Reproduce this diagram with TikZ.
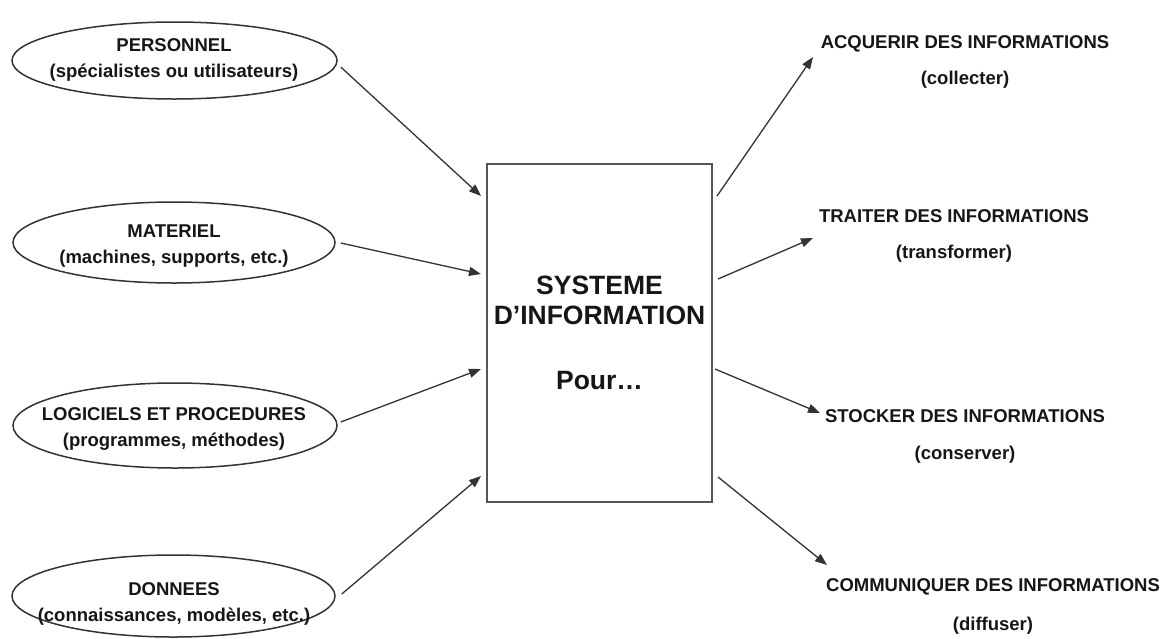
\documentclass[tikz,border=0pt]{standalone}
\usepackage{fontspec}
\setmainfont{Liberation Sans}
\usetikzlibrary{shapes.geometric,arrows.meta,calc}
\definecolor{ink}{HTML}{161616}
\definecolor{edge}{HTML}{333333}
\definecolor{boxedge}{HTML}{555555}
\begin{document}
\begin{tikzpicture}[x=1pt,y=-1pt,
  oval/.style={draw=edge,line width=1.5pt,ellipse,inner sep=0pt},
  lbl/.style={text=ink,font=\fontsize{18.5}{26}\selectfont\bfseries,align=center,inner sep=0pt},
  rlbl/.style={text=ink,font=\fontsize{18.5}{36}\selectfont\bfseries,align=center,inner sep=0pt},
  sysbox/.style={draw=boxedge,line width=2pt,rectangle,inner sep=0pt,minimum width=225pt,minimum height=338pt,text=ink,font=\fontsize{26.5}{30}\selectfont\bfseries,align=center},
  arr/.style={draw=edge,line width=1.3pt,-{Triangle[length=12pt,width=9pt]}}]
\useasboundingbox[fill=white] (0,0) rectangle (1172,638);

% left ellipses
\node[oval,minimum width=325pt,minimum height=77pt] (e1) at (174.5,60.5) {};
\node[lbl] (t1) at (174,60.3) {PERSONNEL\\(spécialistes ou utilisateurs)};
\node[oval,minimum width=322pt,minimum height=81pt] (e2) at (174,242.5) {};
\node[lbl] (t2) at (174,246.3) {MATERIEL\\(machines, supports, etc.)};
\node[oval,minimum width=324pt,minimum height=85pt] (e3) at (175,425.5) {};
\node[lbl] (t3) at (174,429.3) {LOGICIELS ET PROCEDURES\\(programmes, méthodes)};
\node[oval,minimum width=323pt,minimum height=82pt] (e4) at (173.5,596) {};
\node[lbl] (t4) at (174,604.3) {DONNEES\\(connaissances, modèles, etc.)};

% central box
\node[sysbox] (sys) at (599.5,333) {SYSTEME\\D’INFORMATION\\[35pt]Pour…};

% right labels
\node[rlbl] (r1) at (965,62.3) {ACQUERIR DES INFORMATIONS\\(collecter)};
\node[rlbl] (r2) at (954,236.3) {TRAITER DES INFORMATIONS\\(transformer)};
\node[rlbl] (r3) at (965,436.8) {STOCKER DES INFORMATIONS\\[1pt](conserver)};
\node[rlbl] (r4) at (993,606.8) {COMMUNIQUER DES INFORMATIONS\\[3pt](diffuser)};

% arrow tips on the right
\coordinate (c1) at (813,57);
\coordinate (c2) at (813,238);
\coordinate (c3) at (820,413);
\coordinate (c4) at (827,565);

% incoming arrows
\draw[arr] ($(e1.east)+(3,6.5)$) -- ($(sys.north west)+(-5,33)$);
\draw[arr] ($(e2.east)+(5,0.5)$) -- ($(sys.north west)+(-5,111)$);
\draw[arr] ($(e3.east)+(3,-3.5)$) -- ($(sys.north west)+(-5,206)$);
\draw[arr] ($(e4.east)+(6,-2)$) -- ($(sys.north west)+(-5,313)$);

% outgoing arrows
\draw[arr] ($(sys.north east)+(4,33)$) -- (c1);
\draw[arr] ($(sys.north east)+(5,116)$) -- (c2);
\draw[arr] ($(sys.north east)+(2,206)$) -- (c3);
\draw[arr] ($(sys.north east)+(5,314)$) -- (c4);
\end{tikzpicture}
\end{document}
